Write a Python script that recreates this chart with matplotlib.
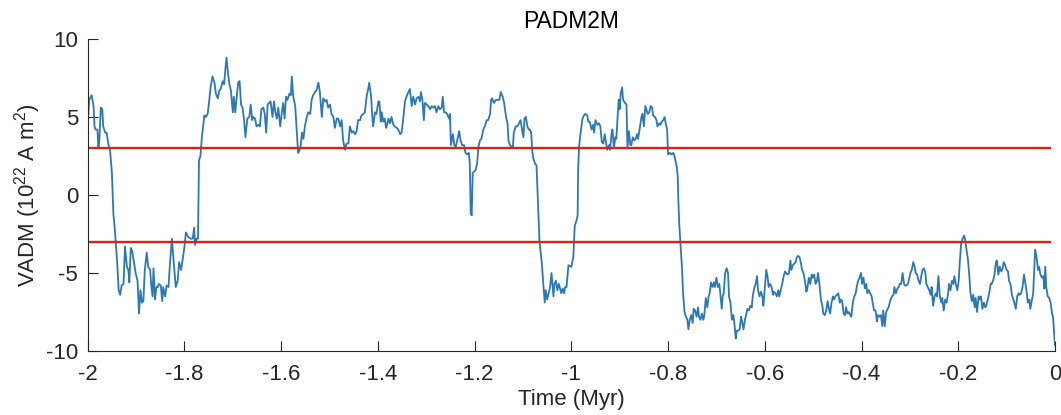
import matplotlib
matplotlib.use("Agg")
import matplotlib.pyplot as plt

# PADM2M axial dipole moment (age in kyr, VADM in 1e22 A m^2)
age_ka = [
    -2000, -1997, -1992, -1988, -1986, -1984, -1980, -1978, -1976, -1973,
    -1970, -1968, -1964, -1961, -1957, -1954, -1950, -1947, -1944, -1942,
    -1939, -1936, -1933, -1930, -1926, -1923, -1919, -1916, -1914, -1911,
    -1908, -1904, -1901, -1897, -1894, -1891, -1888, -1885, -1882, -1878,
    -1875, -1871, -1869, -1866, -1864, -1861, -1858, -1855, -1853, -1849,
    -1846, -1844, -1840, -1837, -1833, -1830, -1826, -1822, -1818, -1814,
    -1811, -1807, -1804, -1800, -1797, -1792, -1787, -1783, -1780, -1778,
    -1775, -1772, -1770, -1767, -1764, -1761, -1759, -1756, -1752, -1749,
    -1746, -1742, -1738, -1735, -1731, -1728, -1725, -1721, -1718, -1715,
    -1713, -1710, -1707, -1704, -1700, -1698, -1695, -1692, -1689, -1686,
    -1683, -1680, -1677, -1674, -1670, -1666,
    -1663, -1660, -1658, -1654, -1651, -1647, -1644, -1641, -1637, -1634,
    -1631, -1628, -1625, -1622, -1618, -1615, -1612, -1609, -1606, -1602,
    -1599, -1596, -1593, -1590, -1587, -1583, -1580, -1578, -1575, -1571,
    -1568, -1565, -1563, -1560, -1557, -1554, -1551, -1547, -1544, -1540,
    -1537, -1534, -1530, -1527, -1523, -1520, -1516, -1513, -1509, -1506,
    -1503, -1499, -1496, -1492, -1489, -1485, -1482, -1478, -1475, -1472,
    -1468, -1465, -1461, -1458, -1454, -1451, -1447, -1444, -1441, -1437,
    -1434, -1430, -1427, -1423, -1420, -1418, -1414, -1412, -1410, -1406,
    -1403, -1399, -1397, -1394, -1392, -1389, -1386, -1383, -1381, -1378,
    -1375, -1372, -1368, -1365, -1361, -1358, -1354, -1351, -1348, -1344,
    -1341,
    -1334, -1330, -1327, -1323, -1320, -1316, -1313, -1311, -1308, -1305,
    -1303, -1299, -1296, -1292, -1289, -1285, -1282, -1279, -1275, -1272,
    -1268, -1266, -1263, -1260, -1257, -1253, -1251, -1249, -1245, -1242,
    -1239, -1236, -1232, -1229, -1226, -1222, -1219, -1215, -1212, -1210,
    -1208, -1206, -1204, -1201, -1198, -1195, -1192, -1189, -1186, -1182,
    -1179, -1175, -1172, -1168, -1166, -1164, -1160, -1156, -1152, -1149,
    -1146, -1142, -1139, -1135, -1132, -1130, -1127, -1124, -1121, -1119,
    -1115, -1112, -1108, -1105, -1102, -1099, -1097, -1094, -1091, -1088,
    -1086, -1083, -1081, -1079, -1075, -1072, -1070, -1068, -1066, -1064,
    -1061, -1058, -1055, -1053, -1050, -1047, -1044, -1041, -1037, -1035,
    -1032, -1029, -1026, -1024, -1021, -1018, -1015, -1013, -1010, -1006,
    -1000, -996, -993, -989, -987, -986, -984, -982, -979, -977,
    -974, -971, -967, -965, -962, -958, -955, -953, -950, -946,
    -943, -940, -937, -934, -931, -929, -926, -922, -920, -917,
    -915, -912, -909, -907, -904, -902, -900, -898, -895, -893,
    -889, -886, -884, -881, -878, -876, -873, -870, -867, -864,
    -862, -858, -855, -853, -850, -847, -845, -842, -839, -836,
    -833, -831, -827, -824, -822, -818, -816, -813, -810, -807,
    -805, -802, -800, -796, -793, -789, -786, -782, -780, -779,
    -777, -774, -771, -769, -766, -763, -760, -758, -755, -752,
    -749, -747, -744, -741, -738, -736, -733, -730, -727, -725,
    -722, -719, -716, -714, -711, -708, -705, -703, -700, -697,
    -694, -692, -689, -687, -685, -682, -679, -676, -674,
    -671, -668, -665, -663, -660, -658, -655, -652, -649, -647,
    -644, -641, -638, -636, -633, -630, -627, -625, -622, -619,
    -616, -614, -611, -608, -605, -603, -600, -597, -594, -592,
    -589, -586, -583, -581, -578, -575, -572, -570, -567, -564,
    -561, -558, -556, -553, -550, -547, -545, -542, -539, -536,
    -534, -531, -528, -525, -523, -520, -517, -514, -512, -509,
    -506, -503, -501, -498, -495, -492, -490, -487, -484, -481,
    -479, -476, -473, -470, -468, -465, -462, -459, -457, -454,
    -451, -448, -445, -443, -440, -437, -434, -432, -429, -426,
    -423, -421, -418, -415, -412, -410, -407, -404, -401, -399,
    -396, -393, -390, -388, -385, -382, -379, -377, -374, -371,
    -368, -366, -363, -360, -357, -355, -352, -349, -346, -344,
    -340, -337, -334, -332, -329, -326, -323, -321, -318, -315,
    -312, -310, -307, -304, -301, -299, -296, -293, -290, -288,
    -285, -282, -279, -277, -274, -271, -268, -266, -263, -260,
    -257, -255, -252, -249, -246, -244, -241, -238, -235, -233,
    -230, -227, -224, -221, -219, -216, -213, -210, -208, -205,
    -202, -199, -197, -194, -191, -188, -186, -183, -180, -177,
    -175, -172, -169, -166, -164, -161, -158, -155, -153, -150,
    -147, -144, -142, -139, -136, -133, -131, -128, -125, -122,
    -120, -117, -114, -111, -108, -106, -103, -100, -97, -95,
    -92, -89, -86, -84, -81, -78, -75, -73, -70, -67,
    -64, -62, -59, -56, -53, -51, -48, -45, -42, -41,
    -38, -35, -33, -30, -27, -24, -22, -20, -18, -15,
    -12, -9, -6, -4, -2, 0,
]

vadm = [
    4.5, 6.1, 6.4, 5.7, 4.4, 4.2, 4.2, 3.0, 3.5, 5.6,
    5.5, 4.4, 4.0, 4.0, 3.2, 2.9, 1.4, -1.2, -2.2, -3.1,
    -4.4, -6.1, -6.4, -5.8, -5.7, -3.3, -4.6, -4.8, -5.6, -3.4,
    -3.6, -4.4, -5.0, -5.5, -7.6, -6.1, -6.9, -6.8, -4.8, -3.7,
    -4.6, -4.8, -5.7, -6.5, -4.7, -6.7, -5.9, -5.9, -5.7, -5.8,
    -6.8, -5.9, -6.5, -5.8, -5.9, -4.4, -2.8, -4.4, -5.9, -5.5,
    -4.3, -4.8, -4.2, -3.3, -2.4, -2.7, -2.8, -2.8, -2.1, -3.2,
    -2.8, -2.8, 2.2, 2.5, 3.7, 4.5, 5.1, 5.0, 5.2, 6.0,
    6.9, 7.6, 7.2, 6.5, 6.2, 6.7, 6.8, 7.3, 7.1, 8.2,
    8.8, 7.8, 7.1, 6.7, 5.3, 6.3, 5.3, 6.3, 7.2, 7.3,
    5.8, 5.6, 4.9, 3.7, 4.9, 5.0,
    5.8, 4.8, 5.0, 4.9, 4.4, 4.5, 4.4, 5.5, 5.6, 5.2,
    4.0, 5.8, 5.9, 6.0, 5.0, 6.0, 5.3, 4.9, 5.6, 4.4,
    5.2, 5.9, 4.9, 6.3, 6.1, 6.5, 6.4, 7.6, 6.3, 5.7,
    4.2, 2.7, 2.8, 3.1, 4.0, 3.6, 4.4, 5.0, 5.3, 5.2,
    6.1, 6.4, 6.6, 6.7, 7.2, 6.6, 5.0, 6.2, 6.0, 6.1,
    5.6, 5.8, 5.2, 5.0, 4.3, 4.9, 4.9, 4.4, 4.8, 3.5,
    2.9, 3.3, 3.3, 4.4, 4.0, 4.1, 3.9, 4.1, 4.8, 4.8,
    5.1, 5.2, 5.3, 6.4, 6.8, 7.2, 6.3, 5.2, 4.4, 5.3,
    5.2, 6.0, 6.0, 4.7, 5.3, 4.7, 4.9, 4.3, 4.5, 4.9,
    4.6, 5.0, 4.5, 4.4, 4.3, 4.2, 3.9, 4.0, 4.8, 6.0,
    6.3,
    6.8, 5.7, 6.3, 5.8, 6.2, 6.3, 6.0, 6.6, 6.1, 4.8,
    5.9, 5.8, 5.7, 5.5, 5.7, 5.6, 5.7, 5.3, 5.7, 5.5,
    5.6, 6.3, 5.3, 5.3, 5.2, 4.9, 5.2, 3.2, 3.9, 3.2,
    3.1, 3.5, 4.1, 3.5, 3.2, 3.2, 2.7, 2.6, 2.7, 2.0,
    -1.2, -1.3, 1.4, 1.5, 1.6, 2.0, 3.1, 3.5, 3.6, 4.2,
    4.4, 4.8, 4.8, 5.2, 6.1, 6.2, 5.9, 6.1, 6.1, 6.1,
    6.6, 6.3, 5.9, 5.0, 4.6, 3.5, 3.2, 3.1, 3.0, 4.0,
    4.4, 4.4, 4.6, 4.8, 4.2, 3.7, 4.9, 5.0, 4.4, 4.2,
    4.2, 4.0, 2.9, 2.4, 2.0, 1.9, 0.3, -1.4, -2.9, -3.5,
    -4.4, -5.7, -6.9, -6.1, -6.7, -6.3, -5.9, -5.0, -6.5, -5.7,
    -5.5, -6.1, -5.7, -5.9, -6.3, -6.0, -6.3, -5.9, -5.9, -4.5,
    -4.6, -4.0, -2.0, -1.6, -1.3, 1.6, 3.1, 3.7, 4.4, 4.9,
    5.1, 5.2, 5.1, 4.7, 4.7, 4.2, 4.5, 4.0, 4.8, 4.5,
    4.6, 4.4, 3.4, 3.3, 3.9, 3.5, 2.9, 3.2, 2.9, 3.9,
    4.2, 3.0, 3.7, 3.6, 5.2, 6.1, 5.5, 6.5, 6.9, 6.1,
    5.9, 5.8, 3.0, 4.1, 3.2, 3.2, 3.7, 3.5, 3.6, 3.9,
    3.6, 4.4, 5.0, 5.2, 4.4, 5.7, 5.5, 5.2, 5.3, 5.7,
    5.6, 5.1, 5.0, 4.8, 4.4, 4.6, 4.5, 4.7, 4.8, 5.0,
    4.6, 4.2, 2.6, 2.7, 2.6, 2.7, 2.4, 1.8, 1.2, -0.1,
    -1.8, -3.3, -4.8, -6.3, -7.5, -7.8, -8.0, -8.6, -8.0, -7.7,
    -8.2, -7.3, -7.4, -7.8, -7.2, -7.8, -8.0, -7.6, -8.0, -7.7,
    -6.6, -7.2, -6.5, -6.3, -5.6, -5.9, -5.6, -5.9, -5.3, -5.9,
    -5.7, -6.3, -7.3, -6.5, -6.3, -5.0, -4.7, -5.0, -6.5,
    -6.9, -8.0, -7.7, -8.2, -9.2, -8.7, -8.7, -8.6, -7.8, -8.1,
    -8.6, -8.0, -7.6, -7.3, -7.4, -7.1, -7.2, -6.5, -6.0, -5.7,
    -5.2, -6.1, -6.5, -6.2, -6.5, -7.1, -6.0, -4.8, -5.3, -5.9,
    -5.7, -5.9, -6.4, -6.2, -6.3, -6.5, -6.1, -6.5, -6.1, -5.7,
    -5.2, -4.9, -5.0, -5.1, -5.0, -4.2, -4.8, -4.5, -4.4, -4.3,
    -4.0, -3.9, -4.0, -4.4, -4.8, -5.0, -5.5, -6.2, -6.0, -5.3,
    -5.7, -5.1, -5.3, -5.1, -5.7, -5.5, -5.0, -5.7, -6.7, -7.1,
    -7.6, -7.7, -7.4, -6.8, -7.2, -7.6, -6.9, -6.5, -6.7, -6.5,
    -6.4, -6.3, -6.9, -6.7, -6.8, -7.6, -7.7, -7.2, -7.6, -7.5,
    -7.7, -7.8, -6.9, -6.5, -6.3, -5.9, -5.5, -5.3, -5.0, -5.7,
    -5.3, -6.0, -5.7, -6.3, -6.1, -6.3, -6.5, -6.9, -7.4, -7.4,
    -8.1, -7.7, -7.8, -7.7, -8.4, -7.4, -8.4, -7.5, -7.3, -7.2,
    -6.7, -6.5, -6.4, -5.9, -6.3, -6.0, -5.9, -5.7, -5.7, -5.0,
    -5.7, -5.8, -5.8, -5.7, -5.3, -5.0, -4.8, -4.3, -4.6, -5.0,
    -5.1, -5.5, -5.7, -5.3, -4.8, -4.7, -5.0, -5.7, -5.9, -6.1,
    -6.4, -5.9, -7.1, -6.5, -6.3, -6.5, -5.2, -6.5, -6.9, -6.6,
    -7.4, -6.7, -6.9, -6.3, -5.7, -6.1, -5.5, -5.7, -5.2, -5.7,
    -6.1, -5.5, -4.4, -3.1, -2.8, -2.6, -2.8, -3.5, -4.1, -5.2,
    -6.2, -6.8, -6.4, -7.2, -6.6, -7.5, -6.5, -6.7, -6.5, -7.3,
    -6.9, -7.2, -7.1, -6.7, -6.3, -5.7, -5.7, -5.5, -5.1, -4.3,
    -4.2, -5.1, -4.6, -4.9, -4.7, -4.3, -4.5, -4.8, -4.9, -5.5,
    -5.7, -6.4, -6.7, -6.9, -7.3, -6.5, -6.3, -6.4, -6.3, -5.9,
    -5.1, -5.5, -6.1, -6.9, -6.7, -7.3, -6.8, -6.3, -4.2, -3.5,
    -4.0, -4.8, -4.6, -5.1, -5.3, -5.2, -6.0, -4.6, -5.9, -6.5,
    -6.6, -6.9, -7.6, -7.8, -8.7, -9.6,
]

thresholds = [3, -3]
x_ticks = [-2, -1.8, -1.6, -1.4, -1.2, -1, -0.8, -0.6, -0.4, -0.2, 0]
x_tick_labels = ["-2", "-1.8", "-1.6", "-1.4", "-1.2", "-1", "-0.8", "-0.6", "-0.4", "-0.2", "0"]
y_ticks = [-10, -5, 0, 5, 10]
y_tick_labels = ["-10", "-5", "0", "5", "10"]

plt.rcParams["font.family"] = ["Liberation Sans", "DejaVu Sans"]
plt.rcParams["mathtext.fontset"] = "custom"
plt.rcParams["mathtext.rm"] = "Liberation Sans"
plt.rcParams["mathtext.it"] = "Liberation Sans"
plt.rcParams["axes.unicode_minus"] = False

fig = plt.figure(figsize=(10.61, 4.15), dpi=100)
ax = fig.add_axes([0.0827, 0.1542, 0.9116, 0.7518])

time_myr = [a / 1000 for a in age_ka]
ax.plot(time_myr, vadm, color="#2A78B8", lw=1.3)
for th in thresholds:
    ax.plot([-2, -0.01], [th, th], color="#D12A0A", lw=1.7)

ax.set_xlim(-2, 0)
ax.set_ylim(-10, 10)
ax.set_xticks(x_ticks)
ax.set_xticklabels(x_tick_labels)
ax.set_yticks(y_ticks)
ax.set_yticklabels(y_tick_labels)

axis_color = "#262626"
for side in ["top", "right"]:
    ax.spines[side].set_visible(False)
for side in ["left", "bottom"]:
    ax.spines[side].set_color(axis_color)
    ax.spines[side].set_linewidth(0.8)
ax.tick_params(direction="in", length=7, width=0.8, colors=axis_color,
               labelsize=16, labelcolor="#262626")
ax.tick_params(axis="x", pad=9)
ax.tick_params(axis="y", pad=7)

ax.set_xlabel("Time (Myr)", fontsize=16, color="#262626", labelpad=3)
ax.set_ylabel("VADM (10$^{22}$ A m$^{2}$)", fontsize=16, color="#262626", labelpad=2)
ax.set_title("PADM2M", fontsize=16.5, color="black", pad=8)

fig.savefig("out.png", dpi=100)
